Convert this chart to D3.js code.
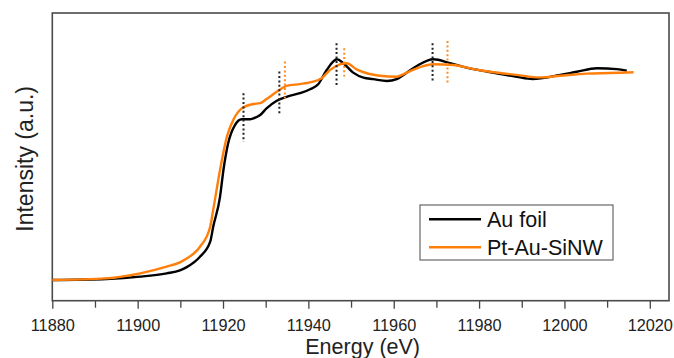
<!DOCTYPE html>
<html>
<head>
<meta charset="utf-8">
<script src="https://cdn.jsdelivr.net/npm/d3@7"></script>
<style>
  html, body { margin: 0; padding: 0; background: #fff; }
  svg { display: block; font-family: "Liberation Sans", Arial, sans-serif; }
</style>
</head>
<body>
<svg id="chart" width="674" height="358"></svg>
<script>
// Au L3-edge XANES: reference foil vs Pt-Au-SiNW sample (normalized intensity)
const auFoilEnergy = [11880, 11892.7, 11900.6, 11906.8, 11909.9, 11911.5, 11914.6, 11917.0, 11917.7,
  11919.3, 11920.1, 11921.2, 11922.8, 11924.4, 11926.3, 11927.1, 11928.7, 11930.2, 11932.6, 11934.9,
  11938.0, 11940.4, 11942.3, 11944.3, 11946.7, 11948.2, 11950.5, 11952.9, 11955.2, 11958.4, 11960.7,
  11962.3, 11965.4, 11969.3, 11973.2, 11978.7, 11984.1, 11988.8, 11992.5, 11999.0, 12002.9, 12007.6,
  12012.3, 12014.6];
const auFoilIntensity = [0, 0.005, 0.016, 0.032, 0.046, 0.062, 0.112, 0.184, 0.256,
  0.400, 0.529, 0.657, 0.745, 0.773, 0.773, 0.777, 0.793, 0.825, 0.862, 0.881,
  0.898, 0.917, 0.941, 1.010, 1.061, 1.042, 0.997, 0.973, 0.966, 0.957, 0.966,
  0.986, 1.029, 1.061, 1.042, 1.014, 0.994, 0.977, 0.966, 0.986, 1.001, 1.018,
  1.014, 1.006];

const ptAuEnergy = [11880, 11892.7, 11900.6, 11906.8, 11909.9, 11911.5, 11913.8, 11914.6, 11917.0,
  11917.7, 11919.3, 11920.9, 11922.4, 11924.4, 11927.1, 11928.7, 11930.2, 11932.6, 11934.9, 11938.0,
  11940.4, 11943.1, 11945.1, 11947.4, 11949.0, 11951.3, 11953.7, 11956.8, 11960.7, 11962.3, 11965.4,
  11969.3, 11974.0, 11978.7, 11982.6, 11988.8, 11994.2, 11999.0, 12005.2, 12010.7, 12016.2];
const ptAuIntensity = [0, 0.008, 0.032, 0.064, 0.085, 0.103, 0.140, 0.160, 0.256,
  0.337, 0.529, 0.689, 0.769, 0.825, 0.846, 0.850, 0.870, 0.905, 0.933, 0.942,
  0.950, 0.970, 1.010, 1.037, 1.042, 1.013, 0.994, 0.982, 0.977, 0.990, 1.018,
  1.037, 1.034, 1.014, 1.001, 0.986, 0.974, 0.982, 0.992, 0.995, 0.999];

// feature markers: energy, lower and upper extent (intensity units)
const auMarkerEnergy = [11924.8, 11933.2, 11946.6, 11969.1];
const auMarkerLow = [0.665, 0.793, 0.929, 0.948];
const auMarkerHigh = [0.898, 1.002, 1.138, 1.138];
const ptMarkerEnergy = [11934.5, 11948.4, 11972.6];
const ptMarkerLow = [0.873, 0.978, 0.942];
const ptMarkerHigh = [1.050, 1.114, 1.149];

const xMajorTicks = [11880, 11900, 11920, 11940, 11960, 11980, 12000, 12020];
const xMinorTicks = [11890, 11910, 11930, 11950, 11970, 11990, 12010];

const seriesNames = ["Au foil", "Pt-Au-SiNW"];
const seriesColors = ["#000000", "#ff7f0a"];
const markerColors = ["#222222", "#ff8c1f"];

const svg = d3.select("#chart");
const plotLeft = 52.3, plotRight = 669, plotTop = 13, plotBottom = 300.7;

const x = d3.scaleLinear().domain([11880, 12024.5]).range([plotLeft, plotRight]);
const y = d3.scaleLinear().domain([-0.0995, 1.2837]).range([plotBottom, plotTop]);

// minor and major ticks along the energy axis
svg.append("g")
  .attr("transform", `translate(0,${plotBottom})`)
  .call(d3.axisBottom(x).tickValues(xMinorTicks).tickSize(7).tickFormat(""))
  .call(g => g.select(".domain").remove())
  .call(g => g.selectAll("line").attr("stroke", "#444").attr("stroke-width", 1.3));

svg.append("g")
  .attr("transform", `translate(0,${plotBottom})`)
  .call(d3.axisBottom(x).tickValues(xMajorTicks).tickSize(8).tickPadding(11).tickFormat(d3.format("d")))
  .call(g => g.select(".domain").remove())
  .call(g => g.selectAll("line").attr("stroke", "#444").attr("stroke-width", 1.3))
  .call(g => g.selectAll("text").attr("font-size", 16.3).attr("fill", "#222")
    .attr("font-family", "'Liberation Sans', Arial, sans-serif"));

// plot frame
svg.append("rect")
  .attr("x", plotLeft).attr("y", plotTop)
  .attr("width", plotRight - plotLeft).attr("height", plotBottom - plotTop)
  .attr("fill", "none").attr("stroke", "#4a4a4a").attr("stroke-width", 1.6);

// curves
const line = d3.line()
  .x(d => x(d[0])).y(d => y(d[1]))
  .curve(d3.curveMonotoneX);

const series = [
  d3.zip(auFoilEnergy, auFoilIntensity),
  d3.zip(ptAuEnergy, ptAuIntensity)
];

series.forEach((pts, i) => {
  svg.append("path")
    .datum(pts)
    .attr("fill", "none")
    .attr("stroke", seriesColors[i])
    .attr("stroke-width", 2.4)
    .attr("stroke-linejoin", "round")
    .attr("d", line);
});

// dotted feature markers
function drawMarkers(energies, lows, highs, color) {
  svg.append("g").selectAll("line")
    .data(d3.range(energies.length))
    .join("line")
    .attr("x1", i => x(energies[i])).attr("x2", i => x(energies[i]))
    .attr("y1", i => y(highs[i])).attr("y2", i => y(lows[i]))
    .attr("stroke", color)
    .attr("stroke-width", 2)
    .attr("stroke-dasharray", "2,2.4");
}
drawMarkers(auMarkerEnergy, auMarkerLow, auMarkerHigh, markerColors[0]);
drawMarkers(ptMarkerEnergy, ptMarkerLow, ptMarkerHigh, markerColors[1]);

// axis titles
svg.append("text")
  .attr("x", (plotLeft + plotRight) / 2 + 2).attr("y", 353.5)
  .attr("text-anchor", "middle")
  .attr("font-size", 21.5).attr("fill", "#222")
  .text("Energy (eV)");

svg.append("text")
  .attr("transform", `translate(33,${(plotTop + plotBottom) / 2 + 2}) rotate(-90)`)
  .attr("text-anchor", "middle")
  .attr("font-size", 23).attr("fill", "#222")
  .text("Intensity (a.u.)");

// legend
const legend = svg.append("g");
legend.append("rect")
  .attr("x", 420).attr("y", 205).attr("width", 193).attr("height", 55)
  .attr("fill", "#fff").attr("stroke", "#666").attr("stroke-width", 1.2);
seriesNames.forEach((name, i) => {
  const ly = 219.3 + i * 28;
  legend.append("line")
    .attr("x1", 429).attr("x2", 481).attr("y1", ly).attr("y2", ly)
    .attr("stroke", seriesColors[i]).attr("stroke-width", 2.4);
  legend.append("text")
    .attr("x", 487).attr("y", ly + 8)
    .attr("font-size", 21.5).attr("fill", "#111")
    .text(name);
});
</script>
</body>
</html>
